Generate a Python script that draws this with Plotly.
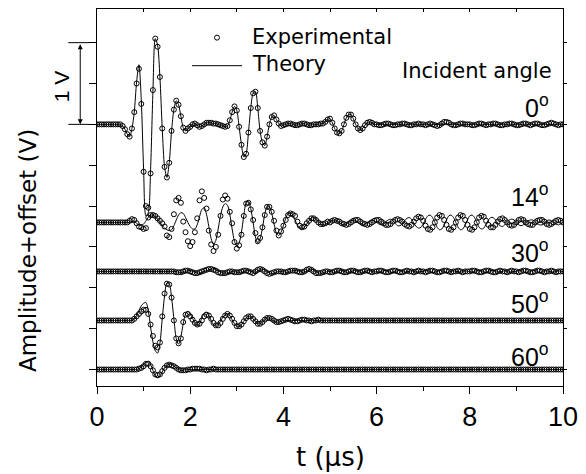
import plotly.graph_objects as go

# ---------------- data ----------------
# sampling grid of the traces, 0 .. 10 us every 0.05 us (201 samples)
t_us = [round(0.05 * i, 2) for i in range(201)]

angle_labels = ["0", "14", "30", "50", "60"]
offsets_V = [3.0, 1.8, 1.2, 0.6, 0.0]

FLAT = [0.00, 0.00, 0.00, 0.00, 0.00, 0.00, 0.00, 0.00, 0.00, 0.00,
        0.00, 0.00, 0.00, 0.00, 0.00, 0.00, 0.00, 0.00, 0.00, 0.00]
SMALL_A = [0.00, 0.01, 0.01, 0.00, -0.01, -0.01, 0.00, 0.01, 0.01, 0.00,
           -0.01, -0.01, 0.00, 0.01, 0.00, 0.00, -0.01, 0.00, 0.01, 0.00]
SMALL_B = [0.00, -0.01, 0.00, 0.01, 0.01, 0.00, -0.01, -0.01, 0.00, 0.01,
           0.01, 0.00, -0.01, 0.00, 0.00, 0.01, 0.00, -0.01, 0.00, 0.00]

# ---- 0 deg ----
exp_0 = [
    [0.00, 0.00, 0.00, 0.00, 0.00, 0.00, 0.00, 0.00, 0.00, 0.00, 0.00, -0.02, -0.06, -0.12, -0.15, -0.05, 0.15, 0.50, 0.68, 0.25],
    [-0.58, -1.00, -1.02, -0.60, 0.42, 1.05, 0.95, 0.58, -0.05, -0.52, -0.65, -0.47, -0.08, 0.18, 0.29, 0.24, 0.10, -0.04, -0.08, -0.05],
    [-0.03, 0.00, 0.01, -0.01, -0.03, -0.02, 0.00, 0.02, 0.02, 0.02, 0.01, 0.01, 0.00, -0.01, -0.02, -0.03, -0.02, 0.05, 0.15, 0.22],
    [0.17, -0.03, -0.25, -0.40, -0.36, -0.10, 0.20, 0.38, 0.40, 0.20, -0.08, -0.22, -0.26, -0.15, 0.00, 0.09, 0.11, 0.06, 0.01, -0.02],
    [-0.01, 0.00, 0.01, 0.01, 0.00, -0.01, -0.01, 0.00, 0.01, 0.01, 0.00, -0.01, -0.01, 0.00, 0.00, 0.00, 0.01, 0.01, 0.03, 0.06],
    [0.07, 0.02, -0.05, -0.10, -0.11, -0.08, 0.00, 0.08, 0.12, 0.12, 0.07, 0.00, -0.05, -0.07, -0.05, -0.01, 0.02, 0.03, 0.02, 0.00],
    [0.00, -0.01, -0.01, 0.00, 0.01, 0.01, 0.00, -0.01, -0.01, 0.00, 0.00, 0.01, 0.01, 0.00, -0.01, -0.01, 0.00, 0.00, 0.01, 0.00],
    [0.00, -0.01, 0.00, 0.01, 0.00, -0.01, -0.02, -0.01, 0.01, 0.03, 0.03, 0.02, 0.00, -0.01, -0.01, 0.00, 0.01, 0.01, 0.00, 0.00],
    [0.00, -0.01, -0.01, 0.00, 0.01, 0.01, 0.00, -0.01, 0.00, 0.00, 0.01, 0.01, 0.00, -0.01, -0.01, 0.00, 0.00, 0.01, 0.01, 0.00],
    [-0.01, -0.01, 0.00, 0.01, 0.01, 0.00, -0.01, 0.00, 0.01, 0.01, 0.00, -0.01, -0.01, 0.00, 0.01, 0.02, 0.01, 0.00, -0.01, 0.00],
    [0.00],
]
theo_0 = [
    [0.00, 0.00, 0.00, 0.00, 0.00, 0.00, 0.00, 0.00, 0.00, 0.00, 0.00, -0.02, -0.06, -0.12, -0.15, -0.05, 0.15, 0.52, 0.73, 0.30],
    [-0.55, -1.12, -1.08, -0.55, 0.40, 1.05, 0.97, 0.58, -0.05, -0.52, -0.65, -0.47, -0.08, 0.18, 0.29, 0.24, 0.10, -0.04, -0.08, -0.05],
    [-0.03, 0.00, 0.01, -0.01, -0.03, -0.02, 0.00, 0.02, 0.02, 0.02, 0.01, 0.01, 0.00, -0.01, -0.02, -0.03, -0.02, 0.05, 0.15, 0.22],
    [0.17, -0.03, -0.25, -0.40, -0.36, -0.10, 0.20, 0.38, 0.40, 0.20, -0.08, -0.22, -0.26, -0.15, 0.00, 0.09, 0.11, 0.06, 0.01, -0.02],
    [-0.01, 0.00, 0.01, 0.01, 0.00, -0.01, -0.01, 0.00, 0.01, 0.01, 0.00, -0.01, -0.01, 0.00, 0.00, 0.00, 0.01, 0.01, 0.03, 0.06],
    [0.07, 0.02, -0.05, -0.10, -0.11, -0.08, 0.00, 0.08, 0.12, 0.12, 0.07, 0.00, -0.05, -0.07, -0.05, -0.01, 0.02, 0.03, 0.02, 0.00],
    FLAT, FLAT, FLAT, FLAT,
    [0.00],
]

# ---- 14 deg ----
exp_14 = [
    [0.00, 0.00, 0.00, 0.00, 0.00, 0.00, 0.00, 0.00, 0.00, 0.00, 0.00, 0.00, 0.00, 0.00, 0.02, 0.04, 0.03, -0.01, -0.05, -0.06],
    [-0.08, -0.07, 0.06, 0.09, 0.09, 0.08, 0.05, 0.02, -0.01, -0.05, -0.16, -0.18, -0.08, 0.10, 0.27, 0.30, 0.24, 0.01, -0.12, -0.23],
    [-0.29, -0.24, -0.12, 0.05, 0.27, 0.38, 0.30, 0.17, -0.10, -0.27, -0.35, -0.30, -0.15, 0.08, 0.28, 0.33, 0.29, 0.13, -0.01, -0.24],
    [-0.32, -0.28, -0.15, 0.08, 0.23, 0.24, 0.16, 0.03, -0.13, -0.23, -0.19, -0.06, 0.09, 0.19, 0.19, 0.13, 0.02, -0.10, -0.16, -0.11],
    [-0.04, 0.03, 0.09, 0.11, 0.10, 0.08, 0.01, -0.04, -0.06, -0.05, -0.01, 0.02, 0.05, 0.05, 0.03, 0.00, -0.02, -0.02, -0.01, 0.01],
    [0.00, 0.02, 0.03, 0.02, 0.01, -0.01, -0.02, -0.03, -0.02, 0.00, 0.02, 0.03, 0.03, 0.01, -0.01, -0.02, -0.03, -0.02, 0.00, 0.02],
    [0.03, 0.03, 0.01, -0.01, -0.03, -0.03, -0.02, 0.01, 0.03, 0.04, 0.03, 0.01, -0.02, -0.04, -0.05, -0.03, 0.01, 0.05, 0.07, 0.06],
    [0.02, -0.04, -0.08, -0.09, -0.06, 0.00, 0.06, 0.09, 0.08, 0.03, -0.03, -0.08, -0.09, -0.06, 0.00, 0.06, 0.09, 0.08, 0.03, -0.03],
    [-0.08, -0.09, -0.06, 0.00, 0.06, 0.08, 0.07, 0.02, -0.03, -0.06, -0.06, -0.03, 0.01, 0.04, 0.05, 0.03, 0.00, -0.03, -0.04, -0.03],
    [0.00, 0.03, 0.04, 0.03, 0.00, -0.02, -0.03, -0.03, 0.00, 0.02, 0.03, 0.03, 0.01, -0.02, -0.03, -0.02, 0.00, 0.02, 0.03, 0.02],
    [0.00],
]
theo_14 = [
    [0.00, 0.00, 0.00, 0.00, 0.00, 0.00, 0.00, 0.00, 0.00, 0.00, 0.00, 0.00, 0.00, 0.00, 0.00, 0.00, 0.01, -0.01, -0.03, -0.03],
    [-0.02, 0.02, 0.06, 0.09, 0.09, 0.07, 0.04, 0.00, -0.04, -0.07, -0.09, -0.10, -0.09, -0.04, 0.03, 0.09, 0.12, 0.11, 0.06, 0.00],
    [-0.05, -0.08, -0.08, -0.03, 0.07, 0.16, 0.18, 0.10, -0.05, -0.20, -0.27, -0.22, -0.08, 0.08, 0.19, 0.23, 0.21, 0.10, -0.08, -0.23],
    [-0.29, -0.25, -0.12, 0.08, 0.24, 0.26, 0.17, 0.00, -0.18, -0.25, -0.20, -0.07, 0.10, 0.19, 0.19, 0.11, -0.02, -0.13, -0.16, -0.12],
    [-0.04, 0.05, 0.11, 0.12, 0.09, 0.03, -0.03, -0.07, -0.08, -0.06, -0.02, 0.02, 0.05, 0.06, 0.04, 0.01, -0.02, -0.03, -0.03, -0.01],
    [0.01, 0.02, 0.03, 0.02, 0.00, -0.02, -0.03, -0.02, 0.00, 0.02, 0.03, 0.02, 0.00, -0.02, -0.03, -0.02, 0.00, 0.02, 0.03, 0.02],
    [0.00, -0.02, -0.03, -0.02, 0.01, 0.03, 0.04, 0.02, -0.01, -0.04, -0.04, -0.02, 0.02, 0.05, 0.06, 0.04, -0.01, -0.05, -0.07, -0.06],
    [-0.02, 0.04, 0.08, 0.09, 0.06, 0.00, -0.06, -0.09, -0.08, -0.03, 0.03, 0.08, 0.09, 0.06, 0.00, -0.06, -0.09, -0.08, -0.03, 0.03],
    [0.08, 0.09, 0.06, 0.00, -0.06, -0.08, -0.07, -0.02, 0.03, 0.06, 0.06, 0.03, -0.01, -0.04, -0.05, -0.03, 0.00, 0.03, 0.04, 0.03],
    [0.00, -0.03, -0.04, -0.03, 0.00, 0.02, 0.03, 0.03, 0.00, -0.02, -0.03, -0.03, -0.01, 0.02, 0.03, 0.02, 0.00, -0.02, -0.03, -0.02],
    [0.00],
]

# ---- 30 deg ----
exp_30 = [
    FLAT,
    [0.00, 0.00, 0.00, 0.00, 0.00, 0.00, 0.00, 0.00, 0.00, 0.00, 0.00, 0.00, 0.00, 0.00, -0.01, -0.01, -0.01, 0.00, 0.01, 0.01],
    [0.00, -0.01, -0.02, -0.02, -0.01, 0.00, 0.01, 0.02, 0.03, 0.03, 0.02, 0.01, -0.01, -0.02, -0.02, -0.02, -0.01, 0.00, 0.00, -0.01],
    [-0.01, -0.01, 0.00, 0.01, 0.01, 0.00, -0.01, -0.02, 0.00, 0.02, 0.03, 0.02, 0.00, -0.02, -0.03, -0.02, -0.01, 0.00, 0.00, 0.00],
    [-0.01, -0.01, 0.00, 0.01, 0.01, 0.01, 0.00, -0.01, -0.01, 0.00, 0.02, 0.03, 0.02, 0.00, -0.02, -0.02, -0.02, -0.01, 0.00, 0.00],
    [-0.01, -0.01, 0.00, 0.01, 0.01, 0.00, -0.01, -0.01, 0.00, 0.01, 0.01, 0.00, -0.01, -0.01, 0.00, 0.01, 0.01, 0.00, -0.01, 0.00],
    SMALL_A, SMALL_B, SMALL_A, SMALL_B,
    [0.00],
]
theo_30 = [
    FLAT,
    [0.00, 0.00, 0.00, 0.00, 0.00, 0.00, 0.00, 0.00, 0.00, 0.00, 0.00, 0.00, 0.00, 0.00, 0.00, -0.01, -0.01, -0.01, 0.00, 0.01],
    [0.01, 0.00, -0.01, -0.02, -0.02, -0.01, 0.00, 0.01, 0.02, 0.03, 0.03, 0.02, 0.01, -0.01, -0.02, -0.02, -0.02, -0.01, 0.00, 0.00],
    [-0.01, -0.01, -0.01, 0.00, 0.01, 0.01, 0.00, -0.01, -0.02, 0.00, 0.02, 0.03, 0.02, 0.00, -0.02, -0.03, -0.02, -0.01, 0.00, 0.00],
    [0.00, -0.01, -0.01, 0.00, 0.01, 0.01, 0.01, 0.00, -0.01, -0.01, 0.00, 0.02, 0.03, 0.02, 0.00, -0.02, -0.02, -0.02, -0.01, 0.00],
    [0.00, -0.01, -0.01, 0.00, 0.01, 0.01, 0.00, -0.01, -0.01, 0.00, 0.01, 0.01, 0.00, -0.01, -0.01, 0.00, 0.01, 0.01, 0.00, -0.01],
    SMALL_B, SMALL_A, SMALL_B, SMALL_A,
    [0.00],
]

# ---- 50 deg ----
exp_50 = [
    [0.00, 0.00, 0.00, 0.00, 0.00, 0.00, 0.00, 0.00, 0.00, 0.00, 0.00, 0.00, 0.00, 0.00, 0.00, 0.00, 0.02, 0.05, 0.08, 0.11],
    [0.13, 0.13, 0.08, -0.05, -0.19, -0.31, -0.33, -0.27, 0.05, 0.33, 0.45, 0.44, 0.28, 0.00, -0.22, -0.28, -0.22, -0.02, 0.07, 0.08],
    [0.05, 0.01, -0.03, -0.05, -0.04, 0.00, 0.05, 0.07, 0.06, 0.02, -0.03, -0.06, -0.06, -0.03, 0.02, 0.06, 0.08, 0.06, 0.02, -0.03],
    [-0.07, -0.07, -0.05, -0.01, 0.03, 0.05, 0.05, 0.02, -0.01, -0.04, -0.04, -0.02, 0.01, 0.03, 0.03, 0.02, 0.00, -0.02, -0.02, -0.01],
    [0.00, 0.01, 0.02, 0.01, 0.00, -0.01, -0.01, 0.00, 0.01, 0.01, 0.00, 0.00, -0.01, 0.00, 0.00, 0.01, 0.00, 0.00, 0.00, 0.00],
    FLAT, FLAT, FLAT, FLAT, FLAT,
    [0.00],
]
theo_50 = [
    [0.00, 0.00, 0.00, 0.00, 0.00, 0.00, 0.00, 0.00, 0.00, 0.00, 0.00, 0.00, 0.00, 0.00, 0.00, 0.00, 0.02, 0.06, 0.12, 0.18],
    [0.21, 0.22, 0.12, -0.08, -0.26, -0.37, -0.40, -0.28, 0.02, 0.30, 0.46, 0.45, 0.28, 0.02, -0.22, -0.29, -0.20, -0.04, 0.08, 0.11],
    [0.08, 0.03, -0.04, -0.06, -0.04, 0.03, 0.09, 0.10, 0.06, 0.00, -0.05, -0.07, -0.05, -0.01, 0.04, 0.07, 0.08, 0.06, 0.01, -0.04],
    [-0.07, -0.07, -0.05, -0.01, 0.03, 0.05, 0.05, 0.02, -0.01, -0.04, -0.04, -0.02, 0.01, 0.03, 0.03, 0.01, -0.01, -0.02, -0.02, -0.01],
    FLAT, FLAT, FLAT, FLAT, FLAT, FLAT,
    [0.00],
]

# ---- 60 deg ----
exp_60 = [
    [0.00, 0.00, 0.00, 0.00, 0.00, 0.00, 0.00, 0.00, 0.00, 0.00, 0.00, 0.00, 0.00, 0.00, 0.00, 0.00, 0.00, 0.00, 0.01, 0.02],
    [0.04, 0.07, 0.07, 0.04, -0.01, -0.06, -0.07, -0.06, -0.02, 0.02, 0.05, 0.06, 0.05, 0.04, 0.02, 0.00, -0.01, -0.01, -0.01, 0.00],
    [0.00, 0.01, 0.01, 0.01, 0.01, 0.00, 0.00, -0.01, 0.00, 0.00, 0.01, 0.00, 0.00, 0.00, 0.00, 0.00, 0.00, 0.00, 0.00, 0.00],
    FLAT, FLAT, FLAT, FLAT, FLAT, FLAT, FLAT,
    [0.00],
]
theo_60 = [
    [0.00, 0.00, 0.00, 0.00, 0.00, 0.00, 0.00, 0.00, 0.00, 0.00, 0.00, 0.00, 0.00, 0.00, 0.00, 0.00, 0.00, 0.00, 0.01, 0.03],
    [0.06, 0.09, 0.10, 0.06, -0.01, -0.08, -0.10, -0.08, -0.03, 0.02, 0.05, 0.065, 0.06, 0.04, 0.02, 0.00, -0.01, -0.01, 0.00, 0.00],
    FLAT, FLAT, FLAT, FLAT, FLAT, FLAT, FLAT, FLAT,
    [0.00],
]

experimental = [exp_0, exp_14, exp_30, exp_50, exp_60]
theory = [theo_0, theo_14, theo_30, theo_50, theo_60]


def flatten(rows):
    return [v for r in rows for v in r]


# ---------------- figure ----------------
fig = go.Figure()
for rows_e, rows_t, off in zip(experimental, theory, offsets_V):
    ye = [v + off for v in flatten(rows_e)]
    yt = [v + off for v in flatten(rows_t)]
    fig.add_trace(go.Scatter(
        x=t_us, y=ye, mode="markers",
        marker=dict(symbol="circle-open", size=5, color="black",
                    line=dict(width=1, color="black")),
        showlegend=False, hoverinfo="skip"))
    fig.add_trace(go.Scatter(
        x=t_us, y=yt, mode="lines",
        line=dict(color="black", width=1, shape="spline", smoothing=0.8),
        showlegend=False, hoverinfo="skip"))

# helper empty traces so the mirrored (top / right) tick axes are drawn
fig.add_trace(go.Scatter(x=[], y=[], xaxis="x2", yaxis="y", showlegend=False))
fig.add_trace(go.Scatter(x=[], y=[], xaxis="x", yaxis="y2", showlegend=False))

YR = [-0.202, 4.412]
NUMFONT = "Liberation Sans, Arial, sans-serif"
WORDFONT = "DejaVu Sans, sans-serif"

# the page body adds an 8 px margin, so the figure is sized to fit the window
fig.update_layout(
    width=578, height=466,
    margin=dict(l=89, r=23, t=1, b=88),
    plot_bgcolor="white", paper_bgcolor="white",
    showlegend=False,
    xaxis=dict(range=[0, 10], tick0=0, dtick=2, ticks="outside", ticklen=7,
               tickwidth=1, tickcolor="black", showline=True, linecolor="black",
               linewidth=1, mirror=True, showgrid=False, zeroline=False,
               tickfont=dict(family=NUMFONT, size=27, color="black"),
               minor=dict(dtick=1, tick0=0, ticks="outside", ticklen=4,
                          tickcolor="black", tickwidth=1, showgrid=False)),
    yaxis=dict(range=YR, tick0=0, dtick=0.5, ticks="outside", ticklen=7,
               tickwidth=1, tickcolor="black", showline=True, linecolor="black",
               linewidth=1, mirror=True, showgrid=False, zeroline=False,
               showticklabels=False),
    xaxis2=dict(overlaying="x", side="top", range=[0, 10], tick0=0, dtick=1,
                ticks="inside", ticklen=3, tickcolor="black", showline=False,
                showgrid=False, zeroline=False, showticklabels=False),
    yaxis2=dict(overlaying="y", side="right", range=YR, tick0=0, dtick=0.5,
                ticks="outside", ticklen=3, tickcolor="black", showline=False,
                showgrid=False, zeroline=False, showticklabels=False),
)

ann = []
# axis titles
ann.append(dict(text="t (\u00b5s)", xref="paper", yref="paper", x=0.5, y=-0.188,
                showarrow=False, xanchor="center", yanchor="middle",
                font=dict(family=WORDFONT, size=26, color="black")))
ann.append(dict(text="Amplitude+offset (V)", xref="paper", yref="paper",
                x=-0.148, y=0.358, textangle=-90, showarrow=False,
                xanchor="center", yanchor="middle",
                font=dict(family=WORDFONT, size=23, color="black")))
# 1 V scale bar
ann.append(dict(text="1 V", xref="paper", yref="y", x=-0.0745, y=3.47,
                textangle=-90, showarrow=False, xanchor="center", yanchor="middle",
                font=dict(family=NUMFONT, size=21, color="black")))
ann.append(dict(text="", xref="x domain", yref="y", x=-0.036, y=3.0,
                axref="x domain", ayref="y", ax=-0.036, ay=4.0,
                showarrow=True, arrowhead=2, arrowside="end+start",
                arrowsize=1, arrowwidth=1, arrowcolor="black"))
# legend texts
ann.append(dict(text="Experimental", xref="paper", yref="paper", x=0.329, y=0.925,
                showarrow=False, xanchor="left", yanchor="middle",
                font=dict(family=WORDFONT, size=21, color="black")))
ann.append(dict(text="Theory", xref="paper", yref="paper", x=0.329, y=0.854,
                showarrow=False, xanchor="left", yanchor="middle",
                font=dict(family=WORDFONT, size=21, color="black")))
ann.append(dict(text="Incident angle", xref="paper", yref="y", x=0.981, y=3.654,
                showarrow=False, xanchor="right", yanchor="middle",
                font=dict(family=WORDFONT, size=21, color="black")))
# angle labels
label_y = [3.225, 2.13, 1.45, 0.82, 0.18]
for lab, ly in zip(angle_labels, label_y):
    ann.append(dict(text=lab + "<sup>o</sup>", xref="paper", yref="y", x=0.975, y=ly,
                    showarrow=False, xanchor="right", yanchor="middle",
                    font=dict(family=NUMFONT, size=25, color="black")))
fig.update_layout(annotations=ann)

shapes = [
    dict(type="line", xref="paper", yref="y", x0=-0.0616, x1=-0.0165, y0=4.0, y1=4.0,
         line=dict(color="black", width=1)),
    dict(type="line", xref="paper", yref="y", x0=-0.0616, x1=-0.0165, y0=3.0, y1=3.0,
         line=dict(color="black", width=1)),
    # legend symbols
    dict(type="circle", xref="paper", yref="paper", xsizemode="pixel", ysizemode="pixel",
         xanchor=0.2575, yanchor=0.924, x0=-2.5, x1=2.5, y0=-2.5, y1=2.5,
         line=dict(color="black", width=1)),
    dict(type="line", xref="paper", yref="paper", x0=0.2039, x1=0.3112, y0=0.8496, y1=0.8496,
         line=dict(color="black", width=1)),
]
fig.update_layout(shapes=shapes)

fig.write_html("out.html")
